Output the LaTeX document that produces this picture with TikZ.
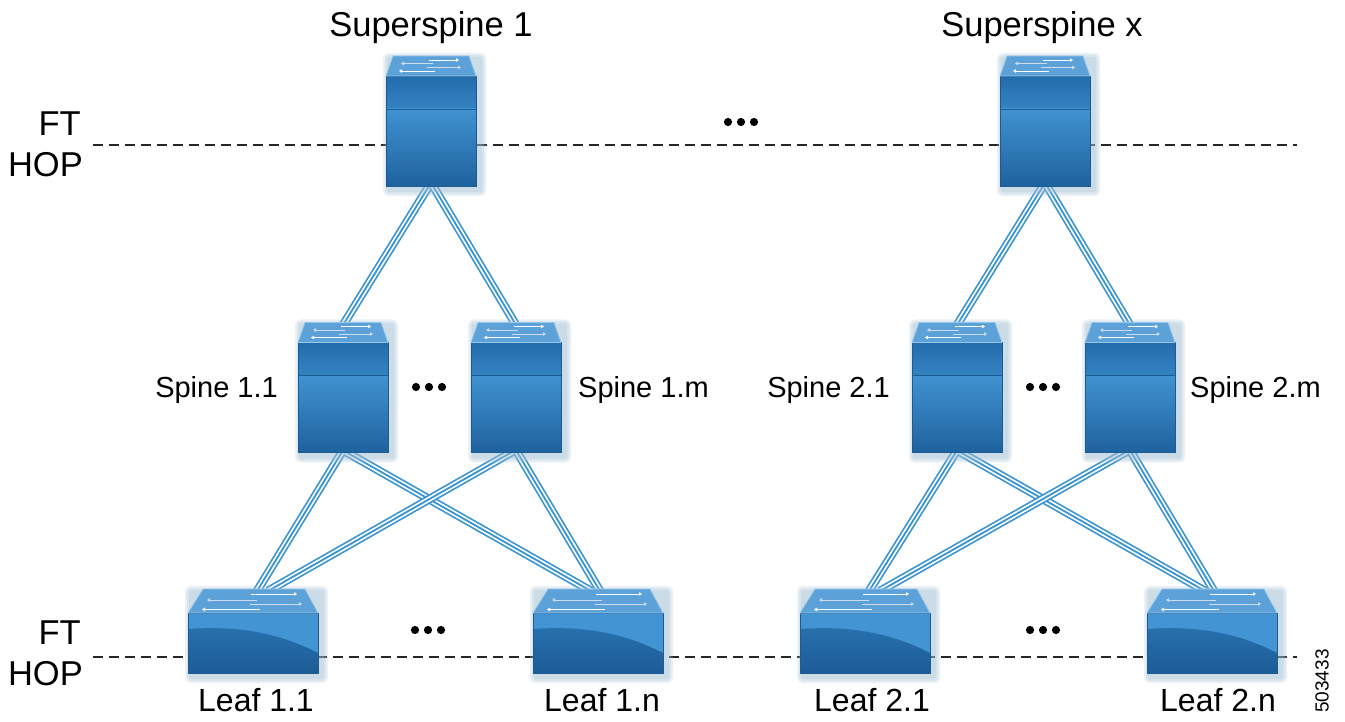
\documentclass[tikz,border=0pt]{standalone}
\usepackage{fontspec}
\setmainfont{Liberation Sans}
\usetikzlibrary{calc,arrows.meta}
\definecolor{lb}{RGB}{58,148,208}
\definecolor{edgec}{RGB}{28,92,148}
\definecolor{topc}{RGB}{92,162,216}
\definecolor{topl}{RGB}{150,200,236}
\definecolor{upA}{RGB}{36,108,172}
\definecolor{upB}{RGB}{52,130,194}
\definecolor{loA}{RGB}{64,146,208}
\definecolor{loB}{RGB}{30,98,158}
\definecolor{lfA}{RGB}{66,148,210}
\definecolor{lfB}{RGB}{40,114,176}
\definecolor{lfC}{RGB}{28,92,150}
\definecolor{shad}{RGB}{160,190,212}
\definecolor{arrw}{RGB}{205,220,238}
\tikzset{
  linkb/.style={draw=lb, line width=1.8pt, preaction={draw=lb, line width=8.6pt}, preaction={draw=white, line width=5.2pt}},
  bigsw/.style={rectangle, minimum width=90pt, minimum height=110pt, inner sep=0pt, outer sep=0pt},
  leafsw/.style={rectangle, minimum width=130pt, minimum height=60pt, inner sep=0pt, outer sep=0pt},
  facebox/.style={draw=edgec, line width=0.6pt},
  topface/.style={fill=topc, draw=topl, line width=0.8pt, line join=round},
  tarr/.style={draw=white, line width=0.9pt, -{Triangle[length=3pt,width=3.5pt]}},
  tarrg/.style={draw=arrw, line width=0.9pt, -{Triangle[length=3pt,width=3.5pt]}},
  hop/.style={draw=black!85, line width=1.5pt, dash pattern=on 10pt off 6pt},
  big/.style={font=\fontsize{34.5}{36}\selectfont, inner sep=0pt},
  lab/.style={font=\fontsize{29}{33}\selectfont, inner sep=0pt},
  leaflab/.style={font=\fontsize{32}{34}\selectfont, inner sep=0pt},
  tag/.style={font=\fontsize{19}{20}\selectfont, rotate=90, inner sep=0pt},
  shadowfill/.style={fill=shad, opacity=0.22},
}
\newcommand\SoftShade[4]{%
  \foreach \e in {6,4,2}{\fill[shadowfill, rounded corners=\e pt] (#1+3-\e,#2+3-\e) rectangle (#3+4+\e,#4+4+\e);}%
}
\newcommand\SwBig[3]{%
  \SoftShade{#2-45}{#3-75}{#2+45}{#3+55}
  \node[bigsw] (#1) at (#2,#3) {};
  \shade[top color=upA, bottom color=upB] (#1.north west) rectangle ($(#1.north east)+(0,33)$);
  \shade[top color=loA, bottom color=loB] ($(#1.north west)+(0,33)$) rectangle (#1.south east);
  \draw[edgec, line width=0.8pt] ($(#1.north west)+(0,33)$) -- ($(#1.north east)+(0,33)$);
  \draw[facebox] (#1.north west) rectangle (#1.south east);
  \filldraw[topface] (#1.north west) -- ($(#1.north west)+(7,-20)$) -- ($(#1.north east)+(-7,-20)$) -- (#1.north east) -- cycle;
  \draw[tarr] ($(#1.north)+(-2,-16)$) -- ++(30,0);
  \draw[tarrg] ($(#1.north)+(2,-12.5)$) -- ++(-32,0);
  \draw[tarrg] ($(#1.north)+(-4,-8.5)$) -- ++(34,0);
  \draw[tarr] ($(#1.north)+(4,-5)$) -- ++(-36,0);
}
\newcommand\SwLeaf[3]{%
  \SoftShade{#2-65}{#3-54}{#2+65}{#3+30}
  \node[leafsw] (#1) at (#2,#3) {};
  \fill[lfA] (#1.north west) rectangle (#1.south east);
  \shade[top color=lfB, bottom color=lfC] ($(#1.north west)+(0,16)$) .. controls ($(#1.north west)+(55,12)$) and ($(#1.north east)+(-35,22)$) .. ($(#1.north east)+(0,40)$) -- (#1.south east) -- (#1.south west) -- cycle;
  \draw[facebox] (#1.north west) rectangle (#1.south east);
  \filldraw[topface] (#1.north west) -- ($(#1.north west)+(15,-24)$) -- ($(#1.north east)+(-13,-24)$) -- (#1.north east) -- cycle;
  \draw[tarr] ($(#1.north)+(-2,-19)$) -- ++(46,0);
  \draw[tarrg] ($(#1.north)+(4,-13)$) -- ++(-50,0);
  \draw[tarrg] ($(#1.north)+(-3,-9)$) -- ++(52,0);
  \draw[tarr] ($(#1.north)+(7,-3.5)$) -- ++(-58,0);
}
\begin{document}
\begin{tikzpicture}[x=1pt,y=-1pt]
\fill[white] (0,0) rectangle (1345,722);
\useasboundingbox (0,0) rectangle (1345,722);
% hop lines
\coordinate (ha) at (93,145);
\coordinate (hb) at (1297,145);
\coordinate (hc) at (93,657);
\coordinate (hd) at (1297,657);
\draw[hop] (ha) -- (hb);
\draw[hop] (hc) -- (hd);
% anchor coordinates of the devices (for links drawn beneath)
\coordinate (pss1) at (431,186);
\coordinate (pssx) at (1045,186);
\foreach \n/\x in {p11/343,p1m/516,p21/957,p2m/1130}{
  \coordinate (\n t) at (\x,325);
  \coordinate (\n b) at (\x,452);
}
\foreach \n/\x in {q11/253,q1n/598,q21/865,q2n/1212}{
  \coordinate (\n) at (\x,591);
}
% links
\draw[linkb] ($(pss1)+(-2,0)$) -- (p11t);
\draw[linkb] ($(pss1)+(2,0)$) -- (p1mt);
\draw[linkb] ($(pssx)+(-2,0)$) -- (p21t);
\draw[linkb] ($(pssx)+(2,0)$) -- (p2mt);
\draw[linkb] ($(p11b)+(-1,0)$) -- ($(q11)+(4,0)$);
\draw[linkb] ($(p11b)+(3,0)$) -- ($(q1n)+(-7,0)$);
\draw[linkb] ($(p1mb)+(-4,0)$) -- ($(q11)+(15,0)$);
\draw[linkb] ($(p1mb)+(1,0)$) -- ($(q1n)+(2,0)$);
\draw[linkb] ($(p21b)+(-1,0)$) -- ($(q21)+(4,0)$);
\draw[linkb] ($(p21b)+(3,0)$) -- ($(q2n)+(-7,0)$);
\draw[linkb] ($(p2mb)+(-4,0)$) -- ($(q21)+(15,0)$);
\draw[linkb] ($(p2mb)+(1,0)$) -- ($(q2n)+(2,0)$);
% devices
\SwBig{ss1}{431}{131}
\SwBig{ssx}{1045}{131}
\SwBig{s11}{343}{397.5}
\SwBig{s1m}{516}{397.5}
\SwBig{s21}{957}{397.5}
\SwBig{s2m}{1130}{397.5}
\SwLeaf{l11}{253}{643}
\SwLeaf{l1n}{598}{643}
\SwLeaf{l21}{865}{643}
\SwLeaf{l2n}{1212}{643}
% dots
\foreach \cx/\cy in {741/122,429/387,1043/387,428/630,1043/630}{
  \foreach \dx in {-13,0,13}{\fill[black] (\cx+\dx,\cy) circle (4.1pt);}
}
% labels
\node[big, anchor=base] (tss1) at (431,37) {Superspine 1};
\node[big, anchor=base] (tssx) at (1042,37) {Superspine x};
\node[big, anchor=base east] (ft1) at (81,136) {FT};
\node[big, anchor=base east] (hop1) at (83,177) {HOP};
\node[big, anchor=base east] (ft2) at (81,644) {FT};
\node[big, anchor=base east] (hop2) at (83,685) {HOP};
\node[lab, anchor=base east] (ts11) at (278,397) {Spine 1.1};
\node[lab, anchor=base west] (ts1m) at (578,397) {Spine 1.m};
\node[lab, anchor=base east] (ts21) at (890,397) {Spine 2.1};
\node[lab, anchor=base west] (ts2m) at (1190,397) {Spine 2.m};
\node[leaflab, anchor=base] (tl11) at (256,711) {Leaf 1.1};
\node[leaflab, anchor=base] (tl1n) at (602,711) {Leaf 1.n};
\node[leaflab, anchor=base] (tl21) at (872,711) {Leaf 2.1};
\node[leaflab, anchor=base] (tl2n) at (1218,711) {Leaf 2.n};
\node[tag] (code) at (1322,681) {503433};
\end{tikzpicture}
\end{document}
